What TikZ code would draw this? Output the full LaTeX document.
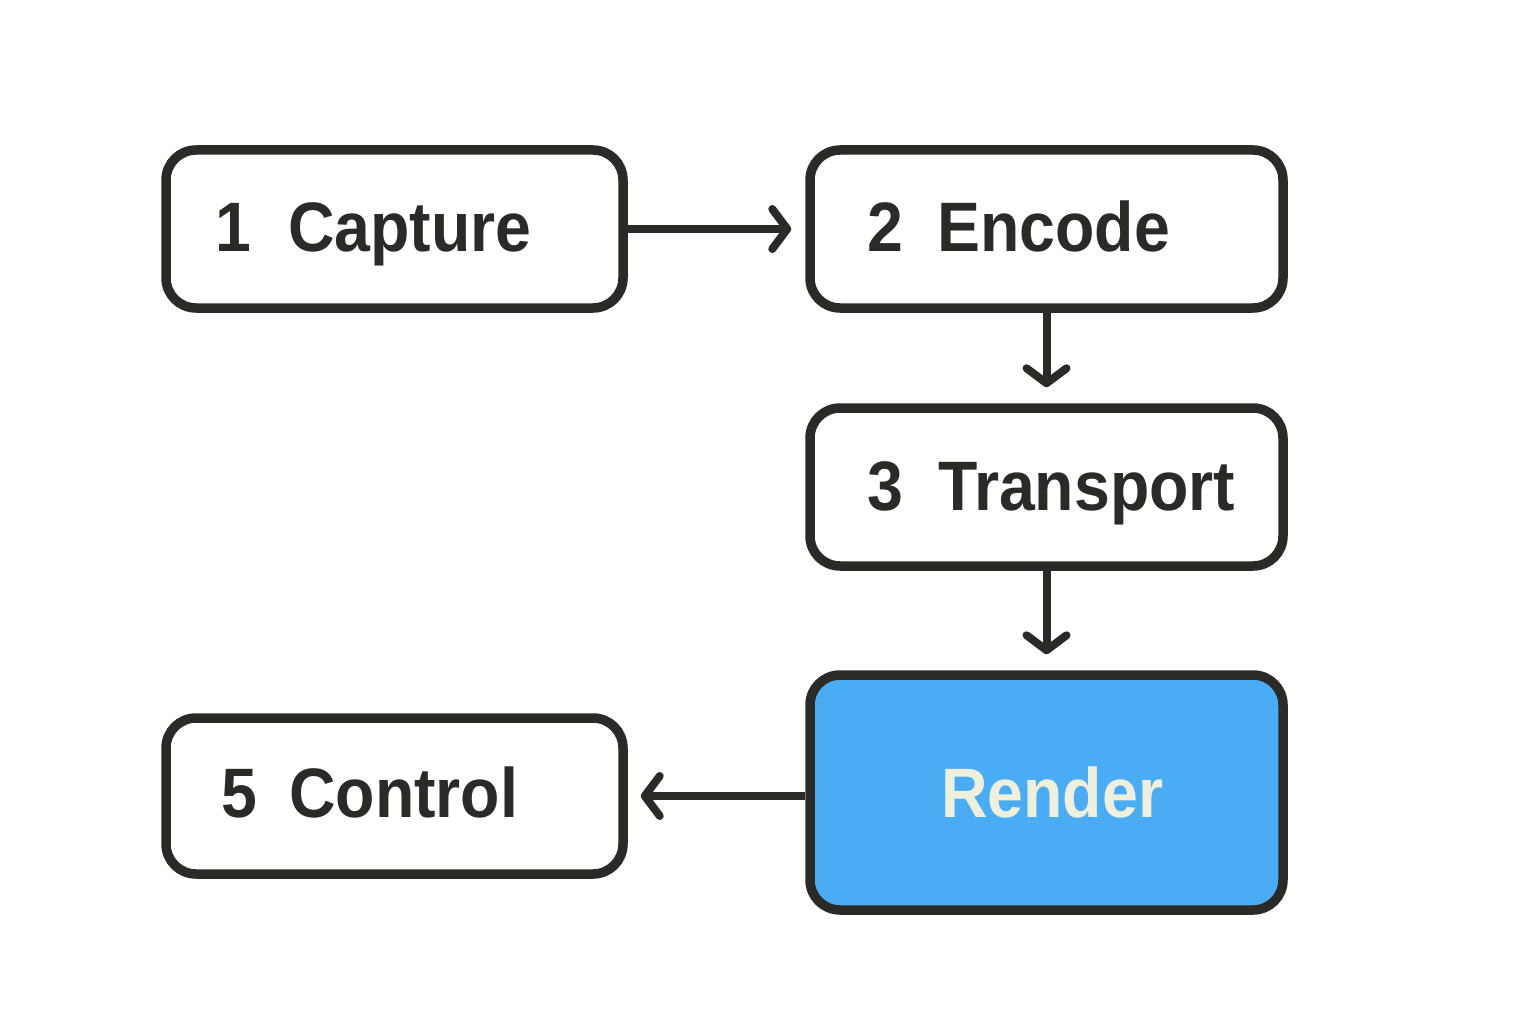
\documentclass[tikz,border=0pt]{standalone}
\usepackage{fontspec}
\newfontfamily\lab[FakeStretch=0.92]{Liberation Sans}
\usetikzlibrary{arrows.meta}
\definecolor{ink}{HTML}{2A2A26}
\definecolor{rblue}{HTML}{4BACF6}
\definecolor{rtext}{HTML}{EEF0DC}
\begin{document}
\begin{tikzpicture}[x=1pt,y=-1pt,
  box/.style={draw=ink, line width=9.5pt, rounded corners=30pt, fill=white, inner sep=0pt, minimum height=158pt},
  lbl/.style={anchor=base west, inner sep=0pt, text=ink, font=\lab\bfseries\fontsize{70}{80}\selectfont},
  arr/.style={draw=ink, line width=8pt, -{Straight Barb[round, length=15pt, width=40pt]}}]
\useasboundingbox (0,0) rectangle (1536,1024);
\node[box, minimum width=457pt] (cap) at (394.5,229) {};
\node[box, minimum width=473pt] (enc) at (1046.5,229) {};
\node[box, minimum width=473pt] (tra) at (1046.5,487) {};
\node[box, minimum width=473pt, minimum height=235pt, fill=rblue] (ren) at (1046.5,792.5) {};
\node[box, minimum width=457pt, minimum height=156pt] (ctl) at (394.5,796) {};
% labels
\node[lbl] (n1) at (215,252) {1};
\node[lbl] (w1) at (288,252) {Capture};
\node[lbl] (n2) at (867,252) {2};
\node[lbl] (w2) at (937,252) {Encode};
\node[lbl] (n3) at (867,510) {3};
\node[lbl] (w3) at (938,510) {Transport};
\node[lbl, text=rtext] (w4) at (941,817) {Render};
\node[lbl] (n5) at (221,817) {5};
\node[lbl] (w5) at (289,817) {Control};
% connectors
\draw[arr, shorten >=14pt] (cap.east) -- (enc.west);
\draw[arr, shorten >=16pt] (enc.south) -- (tra.north);
\draw[arr, shorten >=16pt] (tra.south) -- (ren.north);
\draw[arr, shorten >=13pt] (ren.west |- ctl.east) -- (ctl.east);
\end{tikzpicture}
\end{document}
